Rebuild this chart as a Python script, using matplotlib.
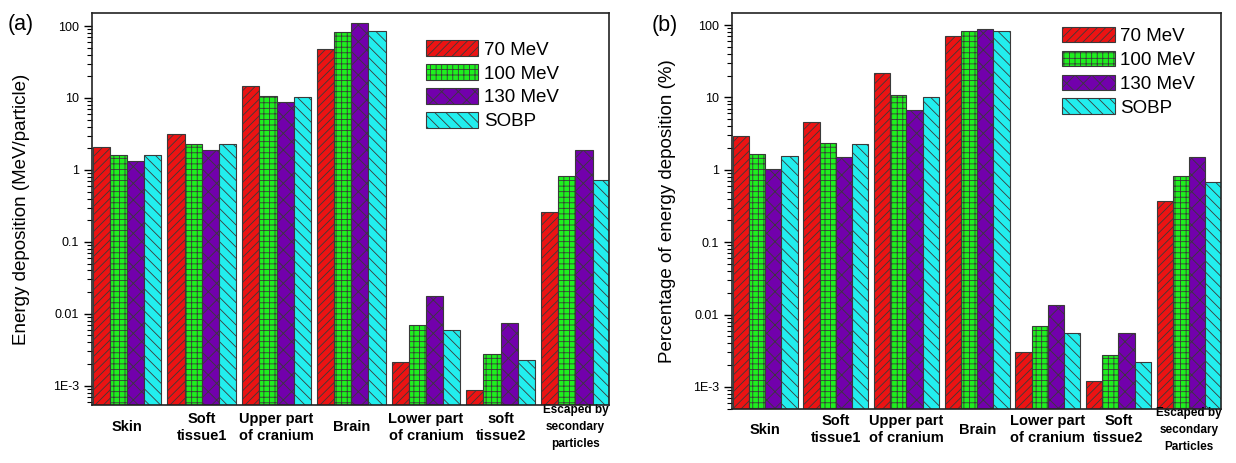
import matplotlib.pyplot as plt
import numpy as np
from matplotlib.ticker import FixedLocator, FixedFormatter, LogLocator, NullFormatter

plt.rcParams['font.family'] = ['Liberation Sans', 'DejaVu Sans']
plt.rcParams['hatch.linewidth'] = 0.6

# categorias
categorias_a = ['Skin', 'Soft\ntissue1', 'Upper part\nof cranium', 'Brain',
                'Lower part\nof cranium', 'soft\ntissue2', 'Escaped by\nsecondary\nparticles']
categorias_b = ['Skin', 'Soft\ntissue1', 'Upper part\nof cranium', 'Brain',
                'Lower part\nof cranium', 'Soft\ntissue2', 'Escaped by\nsecondary\nParticles']
series = ['70 MeV', '100 MeV', '130 MeV', 'SOBP']

# (a) energia depositada (MeV/particle)
a_70 = [2.09, 3.19, 14.7, 47.5, 0.00216, 0.00088, 0.264]
a_100 = [1.60, 2.32, 10.5, 82.6, 0.0070, 0.0028, 0.825]
a_130 = [1.33, 1.91, 8.8, 112.0, 0.0178, 0.0075, 1.90]
a_sobp = [1.60, 2.32, 10.3, 86.0, 0.0059, 0.00227, 0.72]

# (b) porcentagem de energia depositada (%)
b_70 = [2.95, 4.57, 21.5, 71.0, 0.0030, 0.00122, 0.37]
b_100 = [1.63, 2.32, 10.8, 84.0, 0.0069, 0.00277, 0.83]
b_130 = [1.02, 1.50, 6.8, 88.0, 0.0136, 0.0056, 1.48]
b_sobp = [1.55, 2.24, 10.0, 84.0, 0.0056, 0.00222, 0.68]

cores = ['#ec1313', '#1ef01e', '#7200ac', '#22eeee']
hachuras = ['////', '+++', 'xx', '\\\\\\']

yticks = [1e-3, 0.01, 0.1, 1, 10, 100]
ytick_txt = ['1E-3', '0.01', '0.1', '1', '10', '100']

fig = plt.figure(figsize=(12.36, 4.63), dpi=100)
ax_a = fig.add_axes([0.0744, 0.1253, 0.4183, 0.8467])
ax_b = fig.add_axes([0.5922, 0.1166, 0.3956, 0.8554])


def painel(ax, dados, categorias, ylabel, ylim, letra, xy_letra, leg_pos, xpad, ypad):
    x = np.arange(len(categorias))
    largura = 0.23
    for i, (valores, nome) in enumerate(zip(dados, series)):
        ax.bar(x + (i - 1.5) * largura, valores, largura, color=cores[i],
               edgecolor='#3a3a3a', linewidth=0.8, hatch=hachuras[i], label=nome)
    ax.set_yscale('log')
    ax.set_ylim(*ylim)
    ax.set_xlim(-0.47, len(categorias) - 0.55)
    ax.yaxis.set_major_locator(FixedLocator(yticks))
    ax.yaxis.set_major_formatter(FixedFormatter(ytick_txt))
    ax.yaxis.set_minor_locator(LogLocator(base=10, subs=np.arange(2, 10)))
    ax.yaxis.set_minor_formatter(NullFormatter())
    ax.tick_params(axis='y', which='major', direction='out', length=6, width=1, labelsize=9)
    ax.tick_params(axis='y', which='minor', direction='out', length=3.5, width=0.8)
    ax.set_xticks(x)
    ax.set_xticklabels(categorias, fontweight='bold', fontsize=10.5, linespacing=1.3)
    ax.tick_params(axis='x', length=0, pad=xpad)
    for lab in ax.get_xticklabels():
        lab.set_verticalalignment('center')
    ax.get_xticklabels()[-1].set_fontsize(8.5)
    ax.get_xticklabels()[-1].set_linespacing(1.55)
    for s in ax.spines.values():
        s.set_linewidth(1.2)
        s.set_color('#222222')
    ax.set_ylabel(ylabel, fontsize=13.5, labelpad=ypad)
    ax.legend(loc='upper left', bbox_to_anchor=leg_pos, frameon=False, fontsize=13.5,
              handlelength=2.8, handleheight=0.9, handletextpad=0.3, labelspacing=0.3,
              borderaxespad=0, borderpad=0)
    fig.text(xy_letra[0], xy_letra[1], letra, fontsize=15.5, va='center')


painel(ax_a, [a_70, a_100, a_130, a_sobp], categorias_a,
       'Energy deposition (MeV/particle)', (5.4e-4, 152), '(a)', (0.006, 0.948),
       (0.646, 0.93), 16, 16)
painel(ax_b, [b_70, b_100, b_130, b_sobp], categorias_b,
       'Percentage of energy deposition (%)', (4.95e-4, 147), '(b)', (0.527, 0.944),
       (0.675, 0.965), 15, 12)

fig.savefig('out.png', dpi=100)
